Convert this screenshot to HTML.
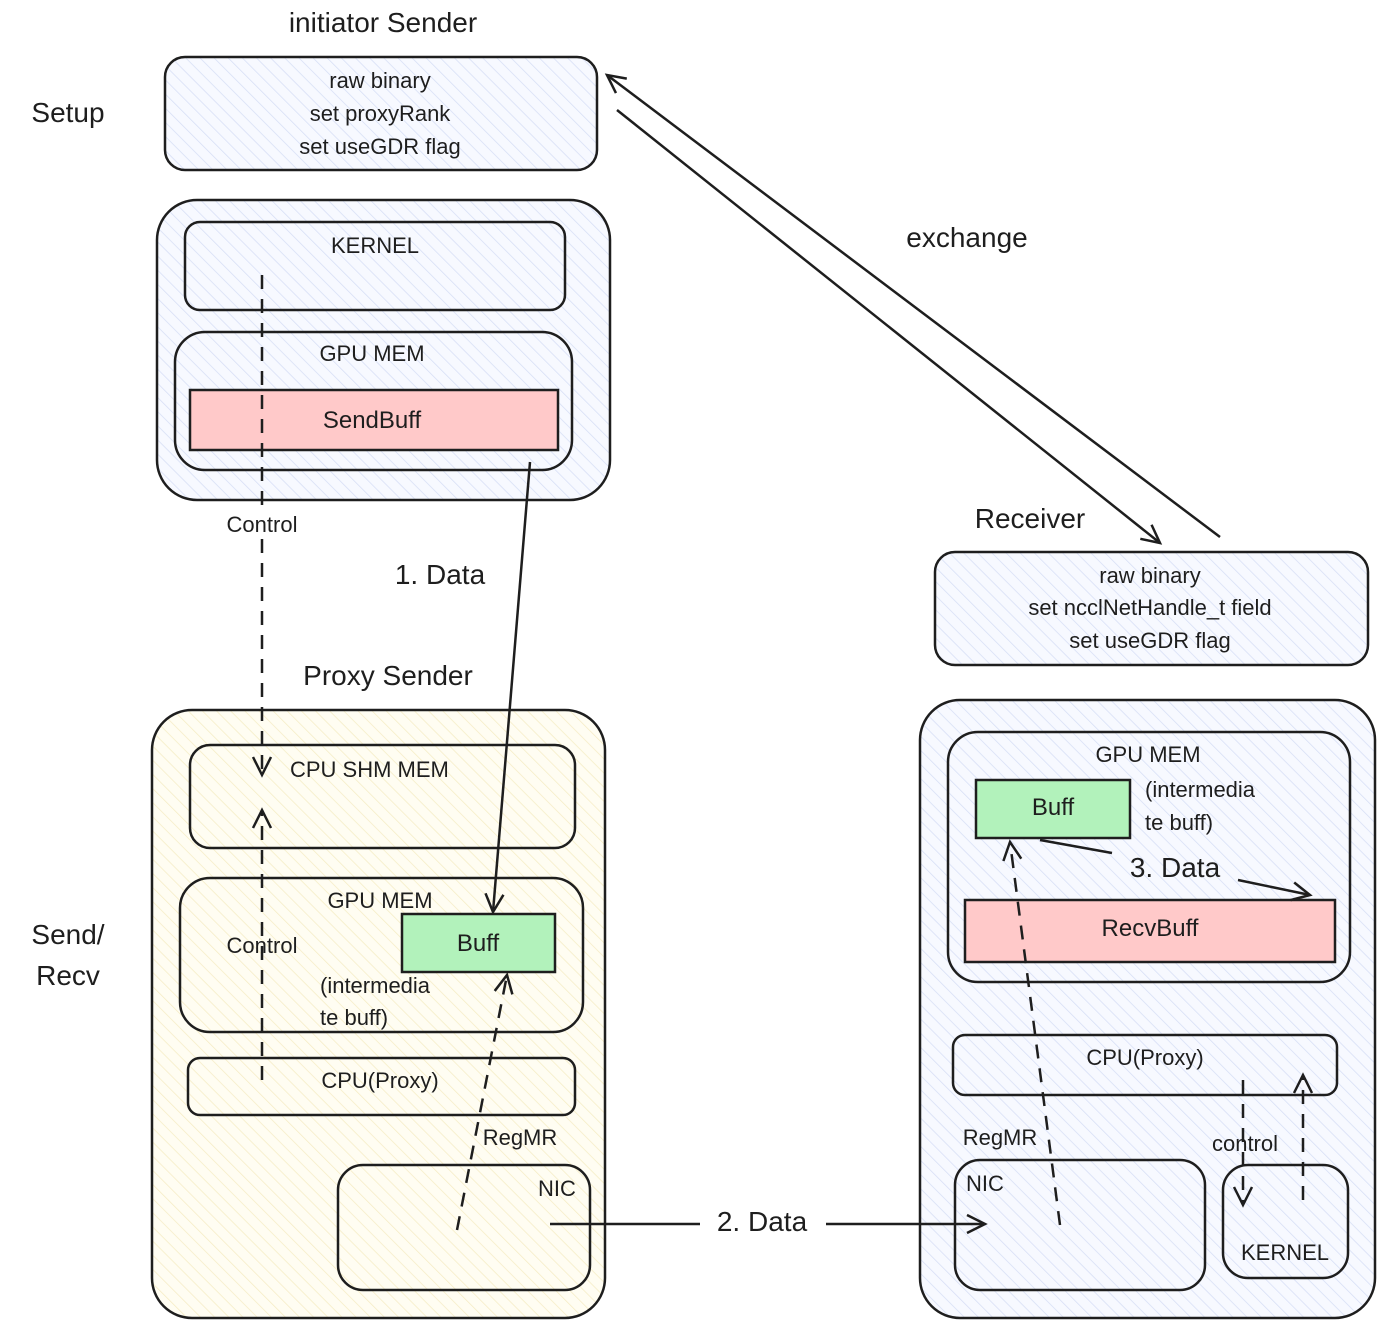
<!DOCTYPE html>
<html><head><meta charset="utf-8"><style>
html,body{margin:0;padding:0;background:#fff;}
svg{display:block;}
text{font-family:"Liberation Sans",sans-serif;fill:#1e1e1e;}
</style></head><body>
<svg width="1392" height="1334" viewBox="0 0 1392 1334" xmlns="http://www.w3.org/2000/svg">
<defs>
<pattern id="hb" width="10" height="10" patternUnits="userSpaceOnUse" patternTransform="rotate(-45)">
<rect width="10" height="10" fill="#f7f9ff"/><line x1="0" y1="0" x2="0" y2="10" stroke="#d6def5" stroke-width="1.5"/></pattern>
<pattern id="hy" width="10" height="10" patternUnits="userSpaceOnUse" patternTransform="rotate(-45)">
<rect width="10" height="10" fill="#fffdf2"/><line x1="0" y1="0" x2="0" y2="10" stroke="#f5ecc4" stroke-width="1.5"/></pattern>
<marker id="ah" markerWidth="24" markerHeight="24" refX="20" refY="12" orient="auto" markerUnits="userSpaceOnUse">
<path d="M2,3 L20,12 L2,21" fill="none" stroke="#1e1e1e" stroke-width="2.5"/></marker>
</defs>
<g stroke="#1e1e1e" stroke-width="2.5" fill="none">
<rect x="165" y="57" width="432" height="113" rx="20" fill="url(#hb)"/>
<rect x="157" y="200" width="453" height="300" rx="40" fill="url(#hb)"/>
<rect x="185" y="222" width="380" height="88" rx="15" fill="url(#hb)"/>
<rect x="175" y="332" width="397" height="138" rx="30" fill="url(#hb)"/>
<rect x="190" y="390" width="368" height="60" fill="#ffc9c9"/>
<rect x="152" y="710" width="453" height="608" rx="40" fill="url(#hy)"/>
<rect x="190" y="745" width="385" height="103" rx="20" fill="url(#hy)"/>
<rect x="180" y="878" width="403" height="154" rx="30" fill="url(#hy)"/>
<rect x="402" y="914" width="153" height="58" fill="#b2f2bb"/>
<rect x="188" y="1058" width="387" height="57" rx="12" fill="url(#hy)"/>
<rect x="338" y="1165" width="252" height="125" rx="25" fill="url(#hy)"/>
<rect x="935" y="552" width="433" height="113" rx="20" fill="url(#hb)"/>
<rect x="920" y="700" width="455" height="618" rx="40" fill="url(#hb)"/>
<rect x="948" y="732" width="402" height="250" rx="30" fill="url(#hb)"/>
<rect x="976" y="780" width="154" height="58" fill="#b2f2bb"/>
<rect x="965" y="900" width="370" height="62" fill="#ffc9c9"/>
<rect x="953" y="1035" width="384" height="60" rx="12" fill="url(#hb)"/>
<rect x="955" y="1160" width="250" height="130" rx="25" fill="url(#hb)"/>
<rect x="1223" y="1165" width="125" height="113" rx="25" fill="url(#hb)"/>
<line x1="262" y1="275" x2="262" y2="775" stroke-dasharray="14,10" marker-end="url(#ah)"/>
<line x1="262" y1="1080" x2="262" y2="810" stroke-dasharray="14,10" marker-end="url(#ah)"/>
<line x1="530" y1="462" x2="493" y2="912" marker-end="url(#ah)"/>
<line x1="457" y1="1230" x2="507" y2="975" stroke-dasharray="14,10" marker-end="url(#ah)"/>
<line x1="550" y1="1224" x2="985" y2="1224" marker-end="url(#ah)"/>
<line x1="617" y1="110" x2="1160" y2="543" marker-end="url(#ah)"/>
<line x1="1220" y1="537" x2="607" y2="75" marker-end="url(#ah)"/>
<line x1="1060" y1="1225" x2="1010" y2="842" stroke-dasharray="14,10" marker-end="url(#ah)"/>
<line x1="1040" y1="840" x2="1112" y2="853"/>
<line x1="1238" y1="880" x2="1310" y2="895" marker-end="url(#ah)"/>
<line x1="1243" y1="1080" x2="1243" y2="1205" stroke-dasharray="14,10" marker-end="url(#ah)"/>
<line x1="1303" y1="1200" x2="1303" y2="1075" stroke-dasharray="14,10" marker-end="url(#ah)"/>
</g>
<rect x="215" y="510" width="95" height="28" fill="#fff"/>
<rect x="700" y="1206" width="126" height="34" fill="#fff"/>
<g font-size="22" text-anchor="middle">
<text x="383" y="32" font-size="28">initiator Sender</text>
<text x="68" y="122" font-size="28">Setup</text>
<text x="380" y="88">raw binary</text>
<text x="380" y="121">set proxyRank</text>
<text x="380" y="154">set useGDR flag</text>
<text x="375" y="253">KERNEL</text>
<text x="372" y="361">GPU MEM</text>
<text x="372" y="428" font-size="24">SendBuff</text>
<text x="262" y="532">Control</text>
<text x="440" y="584" font-size="28">1. Data</text>
<text x="388" y="685" font-size="28">Proxy Sender</text>
<text x="290" y="777" text-anchor="start">CPU SHM MEM</text>
<text x="380" y="908">GPU MEM</text>
<text x="478" y="951" font-size="24">Buff</text>
<text x="262" y="953">Control</text>
<text x="320" y="993" text-anchor="start">(intermedia</text>
<text x="320" y="1025" text-anchor="start">te buff)</text>
<text x="380" y="1088">CPU(Proxy)</text>
<text x="520" y="1145">RegMR</text>
<text x="557" y="1196">NIC</text>
<text x="762" y="1231" font-size="28">2. Data</text>
<text x="68" y="944" font-size="28">Send/</text>
<text x="68" y="985" font-size="28">Recv</text>
<text x="967" y="247" font-size="28">exchange</text>
<text x="1030" y="528" font-size="28">Receiver</text>
<text x="1150" y="583">raw binary</text>
<text x="1150" y="615">set ncclNetHandle_t field</text>
<text x="1150" y="648">set useGDR flag</text>
<text x="1148" y="762">GPU MEM</text>
<text x="1053" y="815" font-size="24">Buff</text>
<text x="1145" y="797" text-anchor="start">(intermedia</text>
<text x="1145" y="830" text-anchor="start">te buff)</text>
<text x="1175" y="877" font-size="28">3. Data</text>
<text x="1150" y="936" font-size="24">RecvBuff</text>
<text x="1145" y="1065">CPU(Proxy)</text>
<text x="1000" y="1145">RegMR</text>
<text x="985" y="1191">NIC</text>
<text x="1245" y="1151">control</text>
<text x="1285" y="1260">KERNEL</text>
</g>
</svg>
</body></html>
